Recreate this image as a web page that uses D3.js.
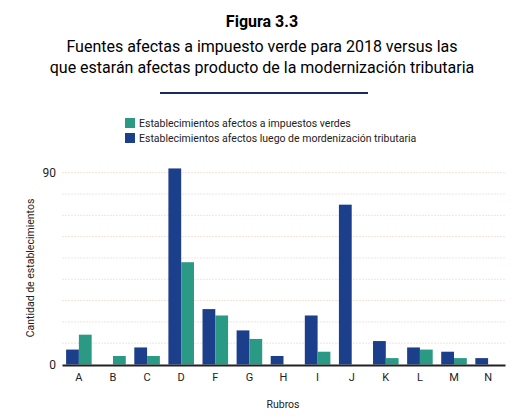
<!DOCTYPE html><html><head><meta charset="utf-8"><script src="https://cdn.jsdelivr.net/npm/d3@7"></script>
<style>body{margin:0;background:#fff}</style></head><body><svg id="c" width="523" height="416"></svg>
<script>
const categories=["A","B","C","D","F","G","H","I","J","K","L","M","N"];
const seriesNames=["Establecimientos afectos a impuestos verdes","Establecimientos afectos luego de mordenización tributaria"];
const verdes=[14,4,4,48,23,12,0,6,0,3,7,3,0];
const luego=[7,0,8,92,26,16,4,23,75,11,8,6,3];
const yTicks=[0,90];
const svg=d3.select("#c"),F="Roboto, sans-serif";
const blue="#1b3f8b",green="#2a9a85";
svg.append("text").attr("x",262).attr("y",27).attr("text-anchor","middle").attr("font-family",F).attr("font-weight","bold").attr("font-size",16).text("Figura 3.3");
svg.append("text").attr("x",262).attr("y",52).attr("text-anchor","middle").attr("font-family",F).attr("font-size",16).text("Fuentes afectas a impuesto verde para 2018 versus las");
svg.append("text").attr("x",262).attr("y",73).attr("text-anchor","middle").attr("font-family",F).attr("font-size",16).text("que estarán afectas producto de la modernización tributaria");
svg.append("line").attr("x1",160).attr("x2",368).attr("y1",93).attr("y2",93).attr("stroke","#1b2a5c").attr("stroke-width",2);
[[green,seriesNames[0],123],[blue,seriesNames[1],138]].forEach(([c,t,y])=>{
svg.append("rect").attr("x",125).attr("y",y-5).attr("width",10).attr("height",10).attr("fill",c);
svg.append("text").attr("x",139).attr("y",y+4).attr("font-family",F).attr("font-size",10.5).attr("fill","#222").text(t);});
const x=d3.scaleBand().domain(categories).range([62,505]).paddingInner(0.25).paddingOuter(0.12);
const y=d3.scaleLinear().domain([0,90]).range([364.5,172.7]);
const g=svg.append("g");
d3.range(10,100,10).forEach(v=>g.append("line").attr("x1",62).attr("x2",505).attr("y1",y(v)).attr("y2",y(v)).attr("stroke","#f3e4dc").attr("stroke-dasharray","2,1"));
const bw=x.bandwidth()/2;
g.selectAll(".b").data(luego).join("rect").attr("x",(d,i)=>x(categories[i])).attr("width",bw).attr("y",d=>y(d)).attr("height",d=>y(0)-y(d)).attr("fill",blue);
g.selectAll(".g").data(verdes).join("rect").attr("x",(d,i)=>x(categories[i])+bw).attr("width",bw).attr("y",d=>y(d)).attr("height",d=>y(0)-y(d)).attr("fill",green);
const xa=svg.append("g").attr("transform","translate(0,365)").call(d3.axisBottom(x).tickSize(0).tickPadding(8));
xa.select(".domain").attr("stroke","#222").attr("stroke-width",2);
xa.selectAll("text").attr("font-family",F).attr("font-size",11).attr("fill","#222");
const ya=svg.append("g").attr("transform","translate(62,0)").call(d3.axisLeft(y).tickValues(yTicks).tickSize(0).tickPadding(6));
ya.select(".domain").remove();
ya.selectAll("text").attr("font-family",F).attr("font-size",12).attr("fill","#222");
svg.append("text").attr("x",283).attr("y",408).attr("text-anchor","middle").attr("font-family",F).attr("font-size",10.5).attr("fill","#222").text("Rubros");
svg.append("text").attr("transform","translate(34,268) rotate(-90)").attr("text-anchor","middle").attr("font-family",F).attr("font-size",10.5).attr("fill","#222").text("Cantidad de establecimientos");
</script></body></html>
